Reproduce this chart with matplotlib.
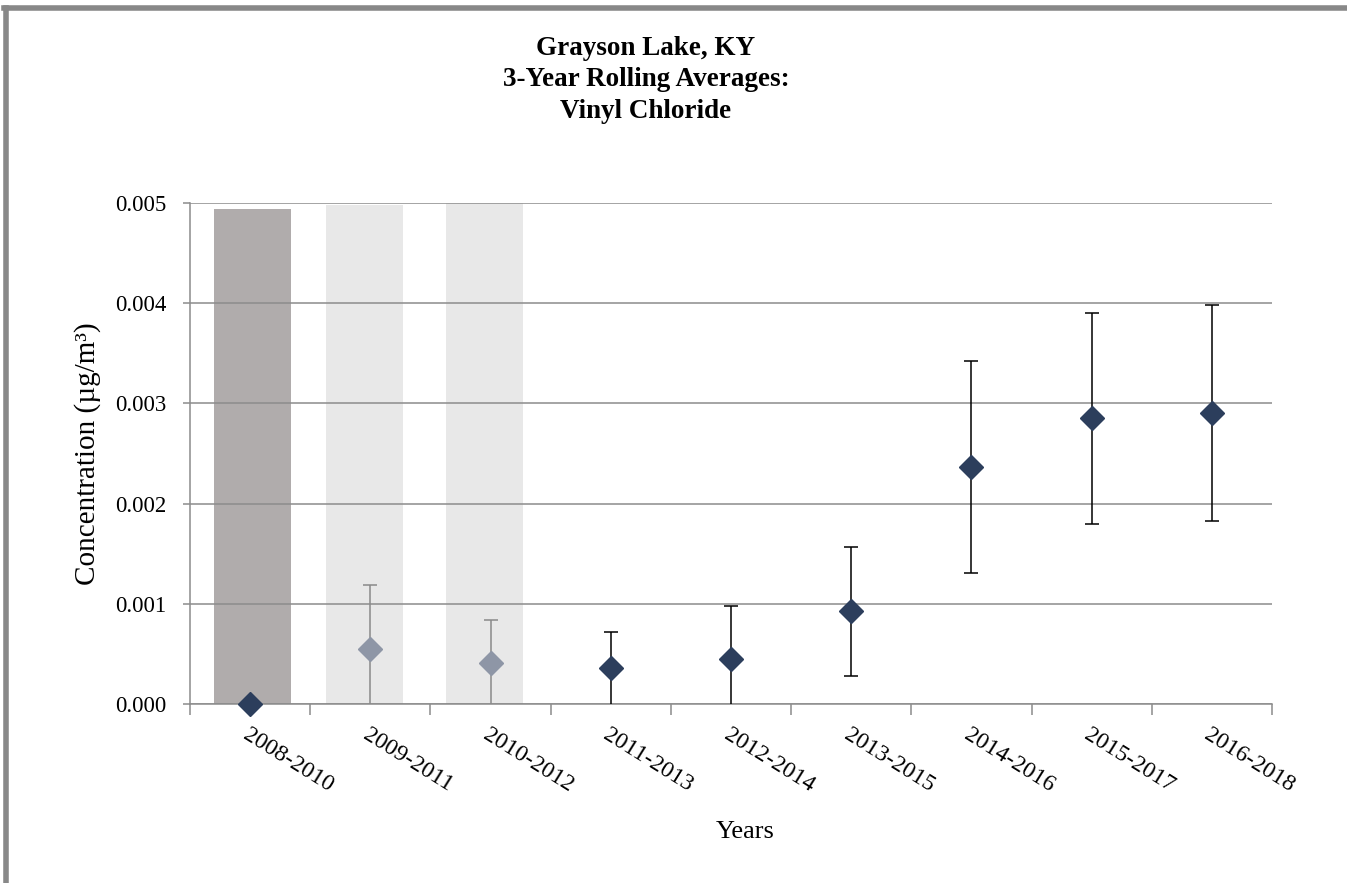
import matplotlib
matplotlib.use("Agg")
import matplotlib.pyplot as plt
from matplotlib.lines import Line2D
import numpy as np

plt.rcParams['font.family'] = ['Liberation Serif', 'DejaVu Serif']

# Rolling 3-year periods
periods = ["2008-2010", "2009-2011", "2010-2012", "2011-2013", "2012-2014",
           "2013-2015", "2014-2016", "2015-2017", "2016-2018"]

# Mean concentrations (µg/m³) and 95% confidence bounds
means = [0.0, 0.00055, 0.00041, 0.00036, 0.00045, 0.00093, 0.00237, 0.00285, 0.00290]
upper = [0.0, 0.00119, 0.00084, 0.00072, 0.00098, 0.00157, 0.00342, 0.00390, 0.00398]
lower = [0.0, 0.0, 0.0, 0.0, 0.0, 0.00028, 0.00131, 0.00180, 0.00183]

# Shaded background columns flagging incomplete periods
shade_idx = [0, 1, 2]
shade_height = [0.00494, 0.00498, 0.0050]
shade_colors = ["#B0ACAC", "#E8E8E8", "#E8E8E8"]
shade_shift = [0.02, -0.05, -0.05]

# Point styles: faded for flagged years, dark otherwise
faded = [1, 2]

fig = plt.figure(figsize=(13.47, 8.83), dpi=100)
ax = fig.add_axes([190 / 1347, 1 - 704 / 883, (1272 - 190) / 1347, (704 - 203) / 883])

x = np.arange(len(periods))
ax.bar(np.array(shade_idx) + np.array(shade_shift), shade_height, width=0.64,
       color=shade_colors, zorder=1)

ax.set_ylim(0, 0.005)
ax.set_xlim(-0.5, len(periods) - 0.5)
yt = np.arange(0, 0.0051, 0.001)
ax.set_yticks(yt)
ax.set_yticklabels([f"{v:.3f}" for v in yt], fontsize=16.5)
ax.yaxis.grid(True, color="#8C8C8C", linewidth=1.1, zorder=2)
ax.set_axisbelow(False)

for i in range(len(periods)):
    if i in faded:
        ecol, mcol = "#8A8A8A", "#8E96A6"
    else:
        ecol, mcol = "black", "#2C3E5C"
    m = means[i]
    if upper[i] > lower[i]:
        _, caps, _ = ax.errorbar(x[i], m, yerr=[[m - lower[i]], [upper[i] - m]],
                                 fmt="none", ecolor=ecol, elinewidth=1.1, capsize=5,
                                 capthick=1.1, zorder=3, clip_on=False)
        if lower[i] <= 0:
            caps[0].set_visible(False)
    ax.plot(x[i], m, marker="D", markersize=12.5, color=mcol, linestyle="none",
            zorder=4, clip_on=False)

# Category tick marks between periods
ax.set_xticks(x)
ax.set_xticklabels(periods, rotation=-32, ha="left", va="top", fontsize=17,
                   rotation_mode="anchor")
ax.tick_params(axis="x", length=0, pad=15)
ax.set_xticks(np.arange(-0.5, len(periods)), minor=True)
ax.tick_params(axis="x", which="minor", length=8, color="#8C8C8C", width=1.1)
ax.tick_params(axis="y", length=5, color="#8C8C8C", width=1.1, pad=12)

for side in ["top", "right"]:
    ax.spines[side].set_visible(False)
for side in ["left", "bottom"]:
    ax.spines[side].set_color("#8C8C8C")
    ax.spines[side].set_linewidth(1.1)

ax.set_ylabel("Concentration (µg/m³)", fontsize=21, labelpad=10)
fig.text(745 / 1347, 1 - 832 / 883, "Years", ha="center", va="center", fontsize=19)

fig.text(646 / 1347, 1 - 80 / 883,
         "Grayson Lake, KY\n3-Year Rolling Averages:\nVinyl Chloride",
         ha="center", va="center", fontsize=19.5, fontweight="bold", linespacing=1.36)

# Frame around the figure (top and left edges)
fig.add_artist(Line2D([6 / 1347, 6 / 1347], [0, 1 - 8 / 883], transform=fig.transFigure,
                      color="#888888", linewidth=4))
fig.add_artist(Line2D([4 / 1347, 1], [1 - 8 / 883, 1 - 8 / 883], transform=fig.transFigure,
                      color="#888888", linewidth=4))

fig.savefig("out.png", dpi=100)
